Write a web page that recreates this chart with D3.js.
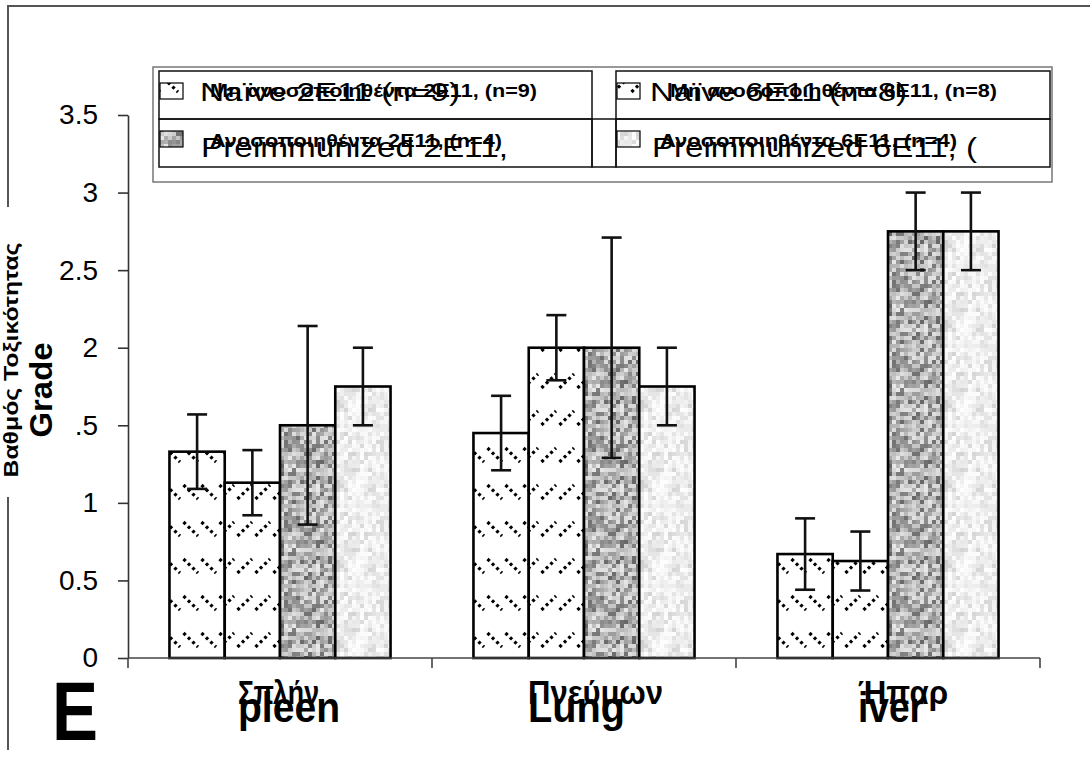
<!DOCTYPE html>
<html>
<head>
<meta charset="utf-8">
<script src="https://cdn.jsdelivr.net/npm/d3@7"></script>
<style>
  html, body { margin: 0; padding: 0; background: #fff; }
  svg { display: block; font-family: "Liberation Sans", Arial, sans-serif; }
</style>
</head>
<body>
<svg id="chart" width="1090" height="758"></svg>
<script>
// ---- data ----
const categories = ["Spleen", "Lung", "Liver"];
const categoryLabelsGreek = ["Σπλήν", "Πνεύμων", "Ήπαρ"];
const categoryLabelsEnglish = ["pleen", "Lung", "iver"];

const seriesKeys = ["naive2E11", "naive6E11", "preimm2E11", "preimm6E11"];

const naive2E11 = [1.33, 1.45, 0.67];
const naive6E11 = [1.13, 2.0, 0.625];
const preimm2E11 = [1.5, 2.0, 2.75];
const preimm6E11 = [1.75, 1.75, 2.75];

const naive2E11Err = [0.24, 0.24, 0.23];
const naive6E11Err = [0.21, 0.21, 0.19];
const preimm2E11Err = [0.64, 0.71, 0.25];
const preimm6E11Err = [0.25, 0.25, 0.25];

const yTickValues = [0, 0.5, 1, 1.5, 2, 2.5, 3, 3.5];
const yTickLabels = ["0", "0.5", "1", ".5", "2", "2.5", "3", "3.5"];

const legendEnglish = ["Naïve 2E11 (n=9)", "Naïve 6E11 (n=8)", "Preimmunized 2E11,", "Preimmunized 6E11, ("];
const legendGreek = ["Μη ανοσοποιηθέντα 2E11, (n=9)", "Μη ανοσοποιηθέντα 6E11, (n=8)",
                     "Ανοσοποιηθέντα 2E11, (n=4)", "Ανοσοποιηθέντα 6E11, (n=4)"];

const yTitleGreek = "Βαθμός Τοξικότητας";
const yTitleEnglish = "Grade";
const panelLetter = "E";

// ---- assemble rows ----
const valuesBySeries = { naive2E11, naive6E11, preimm2E11, preimm6E11 };
const errorsBySeries = { naive2E11: naive2E11Err, naive6E11: naive6E11Err,
                         preimm2E11: preimm2E11Err, preimm6E11: preimm6E11Err };
const rows = categories.map((c, i) => ({
  category: c,
  bars: seriesKeys.map(k => ({ key: k, value: valuesBySeries[k][i], err: errorsBySeries[k][i] }))
}));

// ---- layout ----
const svg = d3.select("#chart");
const plot = { left: 128, right: 1040, top: 115, bottom: 658 };

const x0 = d3.scaleBand().domain(categories).range([plot.left, plot.right]).padding(0);
const x1 = d3.scaleBand().domain(seriesKeys).range([0, x0.bandwidth()])
  .paddingInner(0).paddingOuter(0.75);
const y = d3.scaleLinear().domain([0, 3.5]).range([plot.bottom, plot.top]);

// ---- fills ----
const defs = svg.append("defs");

// rows of short dotted diagonal strokes
function hatch(id, rising) {
  const w = 18, h = 37;
  const p = defs.append("pattern").attr("id", id)
    .attr("patternUnits", "userSpaceOnUse").attr("width", w).attr("height", h);
  p.append("rect").attr("width", w).attr("height", h).attr("fill", "#fff");
  p.append("line")
    .attr("x1", 1.5).attr("x2", 16)
    .attr("y1", rising ? 18 : 4).attr("y2", rising ? 4 : 18)
    .attr("stroke", "#000").attr("stroke-width", 3.2)
    .attr("stroke-dasharray", "3 3.2");
}

// speckled grey texture built from a fixed hash over a grid of small cells
function speckle(id, lo, hi, seed, skew) {
  const cell = 4, n = 20;
  const p = defs.append("pattern").attr("id", id)
    .attr("patternUnits", "userSpaceOnUse").attr("width", cell * n).attr("height", cell * n);
  for (let i = 0; i < n; i++) {
    for (let j = 0; j < n; j++) {
      let h = Math.abs(Math.sin((i + 1) * 12.9898 + (j + 1) * 78.233 + seed) * 43758.5453) % 1;
      h = Math.pow(h, skew);
      const g = Math.round(lo + (hi - lo) * h);
      p.append("rect").attr("x", i * cell).attr("y", j * cell)
        .attr("width", cell).attr("height", cell)
        .attr("fill", `rgb(${g},${g},${g})`);
    }
  }
}

hatch("fill-naive2E11", false);
hatch("fill-naive6E11", true);
speckle("fill-preimm2E11", 100, 232, 1.7, 0.8);
speckle("fill-preimm6E11", 205, 255, 4.3, 0.55);

const fillOf = k => `url(#fill-${k})`;

// ---- outer frame ----
svg.append("path")
  .attr("d", "M8,750 L8,6 L1090,6")
  .attr("fill", "none").attr("stroke", "#555").attr("stroke-width", 2);

// ---- bars ----
const groups = svg.append("g").selectAll("g").data(rows).join("g")
  .attr("transform", d => `translate(${x0(d.category)},0)`);

groups.selectAll("rect").data(d => d.bars).join("rect")
  .attr("x", d => x1(d.key))
  .attr("y", d => y(d.value))
  .attr("width", x1.bandwidth())
  .attr("height", d => y(0) - y(d.value))
  .attr("fill", d => fillOf(d.key))
  .attr("stroke", "#000").attr("stroke-width", 2.6);

// ---- error bars ----
const capHalf = 10;
const eb = groups.selectAll("g.err").data(d => d.bars).join("g").attr("class", "err")
  .attr("stroke", "#111").attr("stroke-width", 2.6);
const cxOf = d => x1(d.key) + x1.bandwidth() / 2;
eb.append("line")
  .attr("x1", cxOf).attr("x2", cxOf)
  .attr("y1", d => y(d.value + d.err)).attr("y2", d => y(d.value - d.err));
eb.append("line")
  .attr("x1", d => cxOf(d) - capHalf).attr("x2", d => cxOf(d) + capHalf)
  .attr("y1", d => y(d.value + d.err)).attr("y2", d => y(d.value + d.err));
eb.append("line")
  .attr("x1", d => cxOf(d) - capHalf).attr("x2", d => cxOf(d) + capHalf)
  .attr("y1", d => y(d.value - d.err)).attr("y2", d => y(d.value - d.err));

// ---- y axis ----
const yAxis = svg.append("g").attr("transform", `translate(${plot.left},0)`)
  .call(d3.axisLeft(y).tickValues(yTickValues)
    .tickFormat((d, i) => yTickLabels[i])
    .tickSize(10).tickSizeOuter(0).tickPadding(20));
yAxis.select(".domain").attr("stroke", "#333").attr("stroke-width", 1.6);
yAxis.selectAll(".tick line").attr("stroke", "#333").attr("stroke-width", 1.6);
yAxis.selectAll(".tick text")
  .attr("font-family", "'Liberation Sans', Arial, sans-serif")
  .attr("font-size", 28).attr("fill", "#000");

// ---- x axis: baseline with ticks at category boundaries ----
const xAxisG = svg.append("g");
xAxisG.append("line")
  .attr("x1", plot.left).attr("x2", plot.right)
  .attr("y1", y(0)).attr("y2", y(0))
  .attr("stroke", "#444").attr("stroke-width", 1.6);
const boundaries = categories.map(c => x0(c)).concat([x0.range()[1]]);
xAxisG.selectAll("line.tk").data(boundaries).join("line").attr("class", "tk")
  .attr("x1", d => d).attr("x2", d => d)
  .attr("y1", y(0)).attr("y2", y(0) + 10)
  .attr("stroke", "#444").attr("stroke-width", 1.6);

// ---- category labels (Greek over English) ----
const catShift = [-42, -56, -30];
const greekLen = [81, 135, 90];
const englishLen = [102, 97, 66];
const catLab = svg.append("g").attr("font-weight", "bold").attr("fill", "#000");
categories.forEach((c, i) => {
  const cx = x0(c) + x0.bandwidth() / 2 + catShift[i];
  catLab.append("text").attr("x", cx).attr("y", 704)
    .attr("font-size", 34).attr("textLength", greekLen[i]).attr("lengthAdjust", "spacingAndGlyphs")
    .text(categoryLabelsGreek[i]);
  catLab.append("text").attr("x", cx).attr("y", 722)
    .attr("font-size", 42).attr("textLength", englishLen[i]).attr("lengthAdjust", "spacingAndGlyphs")
    .text(categoryLabelsEnglish[i]);
});

// ---- y titles ----
svg.append("rect").attr("x", 0).attr("y", 207).attr("width", 22).attr("height", 290).attr("fill", "#fff");
svg.append("text")
  .attr("transform", "translate(18,360) rotate(-90)")
  .attr("text-anchor", "middle").attr("font-weight", "bold").attr("font-size", 21)
  .attr("textLength", 235).attr("lengthAdjust", "spacingAndGlyphs")
  .text(yTitleGreek);
svg.append("text")
  .attr("transform", "translate(52,390) rotate(-90)")
  .attr("text-anchor", "middle").attr("font-weight", "bold").attr("font-size", 32)
  .attr("textLength", 95).attr("lengthAdjust", "spacingAndGlyphs")
  .text(yTitleEnglish);

// ---- panel letter ----
svg.append("text").attr("x", 52).attr("y", 740)
  .attr("font-weight", "bold").attr("font-size", 84)
  .attr("textLength", 46).attr("lengthAdjust", "spacingAndGlyphs")
  .text(panelLetter);

// ---- legend ----
const lg = svg.append("g");
lg.append("rect").attr("x", 153).attr("y", 67).attr("width", 899).attr("height", 115)
  .attr("fill", "#fff").attr("stroke", "#777").attr("stroke-width", 1.5);

const cellL = { x: 159, w: 433 }, cellR = { x: 616, w: 434 };
const rowTop = [71, 119], rowH = 48;
[cellL, cellR].forEach(c => {
  rowTop.forEach(t => {
    lg.append("rect").attr("x", c.x).attr("y", t).attr("width", c.w).attr("height", rowH)
      .attr("fill", "none").attr("stroke", "#111").attr("stroke-width", 1.5);
  });
});
lg.append("rect").attr("x", 592).attr("y", 119).attr("width", 24).attr("height", rowH)
  .attr("fill", "none").attr("stroke", "#111").attr("stroke-width", 1.5);

const legendItems = [
  { key: "naive2E11", col: cellL, row: 0 },
  { key: "naive6E11", col: cellR, row: 0 },
  { key: "preimm2E11", col: cellL, row: 1 },
  { key: "preimm6E11", col: cellR, row: 1 }
];
const engX = [41, 34, 42, 36];
const engLen = [260, 257, 307, 325];
const engSize = [25, 25, 28, 28];
const engBase = [101, 101, 157, 157];
const grX = [51, 54, 51, 44];
const grLen = [327, 327, 292, 297];
const grBase = [97, 97, 147, 147];
const swY = [83, 131];

legendItems.forEach((it, i) => {
  const sx = it.col.x + 1;
  lg.append("rect").attr("x", sx).attr("y", swY[it.row]).attr("width", 23).attr("height", 16)
    .attr("fill", fillOf(it.key)).attr("stroke", "#000").attr("stroke-width", 1.2);
  lg.append("text").attr("x", it.col.x + engX[i]).attr("y", engBase[i])
    .attr("font-size", engSize[i]).attr("textLength", engLen[i]).attr("lengthAdjust", "spacingAndGlyphs")
    .text(legendEnglish[i]);
  lg.append("text").attr("x", it.col.x + grX[i]).attr("y", grBase[i])
    .attr("font-size", 19).attr("font-weight", "bold")
    .attr("textLength", grLen[i]).attr("lengthAdjust", "spacingAndGlyphs")
    .text(legendGreek[i]);
});
</script>
</body>
</html>
